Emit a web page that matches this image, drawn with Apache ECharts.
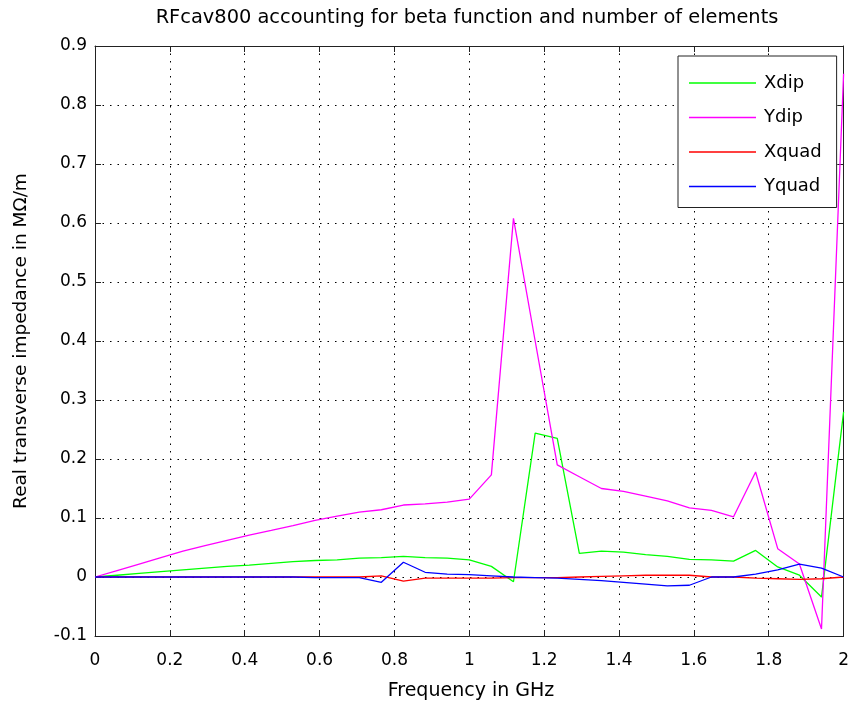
<!DOCTYPE html>
<html>
<head>
<meta charset="utf-8">
<script src="https://cdn.jsdelivr.net/npm/echarts@6/dist/echarts.min.js"></script>
<style>
  html, body { margin: 0; padding: 0; background: #fff; }
  #chart { width: 852px; height: 708px; }
</style>
</head>
<body>
<div id="chart"></div>
<script>
// Frequency samples (GHz)
const freqGHz = [0, 0.059, 0.118, 0.176, 0.235, 0.294, 0.353, 0.412, 0.471, 0.529,
  0.588, 0.647, 0.706, 0.765, 0.824, 0.882, 0.941, 1.0, 1.059, 1.118,
  1.176, 1.235, 1.294, 1.353, 1.412, 1.471, 1.529, 1.588, 1.647, 1.706,
  1.765, 1.824, 1.882, 1.941, 2.0];

// Real transverse impedance (MOhm/m)
const xdip = [0, 0.003, 0.006, 0.009, 0.012, 0.015, 0.018, 0.020, 0.023, 0.026,
  0.028, 0.029, 0.032, 0.033, 0.035, 0.033, 0.032, 0.029, 0.018, -0.008,
  0.244, 0.235, 0.040, 0.044, 0.042, 0.038, 0.035, 0.030, 0.029, 0.027,
  0.045, 0.017, 0.003, -0.034, 0.280];

const ydip = [0, 0.011, 0.022, 0.033, 0.044, 0.053, 0.062, 0.071, 0.079, 0.087,
  0.096, 0.103, 0.110, 0.114, 0.122, 0.124, 0.127, 0.132, 0.173, 0.608,
  0.400, 0.190, 0.170, 0.150, 0.145, 0.137, 0.129, 0.117, 0.113, 0.102,
  0.178, 0.048, 0.022, -0.088, 0.853];

const xquad = [0, 0, 0, 0, 0, 0, 0, 0, 0, 0,
  0, 0, 0, 0.002, -0.007, -0.002, -0.002, -0.002, -0.002, -0.001,
  -0.001, -0.001, 0, 0.001, 0.002, 0.003, 0.003, 0.003, 0, 0,
  -0.002, -0.003, -0.004, -0.003, 0];

const yquad = [0, 0, 0, 0, 0, 0, 0, 0, 0, 0,
  -0.001, -0.001, -0.001, -0.009, 0.025, 0.008, 0.005, 0.004, 0.002, 0,
  -0.001, -0.002, -0.004, -0.006, -0.009, -0.012, -0.015, -0.014, 0, 0,
  0.005, 0.012, 0.022, 0.015, 0];

const seriesNames = ['Xdip', 'Ydip', 'Xquad', 'Yquad'];
const seriesColors = ['#00ff00', '#ff00ff', '#ff0000', '#0000ff'];
const seriesValues = [xdip, ydip, xquad, yquad];

const FONT = 'DejaVu Sans';
const pairs = vals => freqGHz.map((f, i) => [f, vals[i]]);

const chart = echarts.init(document.getElementById('chart'), null, { renderer: 'canvas' });

// Secondary axes only draw the box edges with inward ticks
const frameAxis = {
  axisLine: { show: true, onZero: false, lineStyle: { color: '#222', width: 1 } },
  axisTick: { show: true, inside: true, length: 6, lineStyle: { color: '#222', width: 1 } },
  axisLabel: { show: false },
  splitLine: { show: false }
};

chart.setOption({
  animation: false,
  backgroundColor: '#fff',
  grid: { left: 95, right: 5, top: 46, bottom: 72, containLabel: false },
  xAxis: [
    {
      type: 'value', min: 0, max: 2, interval: 0.2, position: 'bottom',
      axisLine: { show: true, onZero: false, lineStyle: { color: '#222', width: 1 } },
      axisTick: { show: true, inside: true, length: 6, lineStyle: { color: '#222', width: 1 } },
      axisLabel: {
        margin: 16, color: '#000', fontFamily: FONT, fontSize: 17,
        formatter: v => String(+v.toFixed(1))
      },
      splitLine: { show: true, lineStyle: { color: '#000', width: 1, type: [1.5, 6] } }
    },
    Object.assign({}, frameAxis, { type: 'value', min: 0, max: 2, interval: 0.2, position: 'top' })
  ],
  yAxis: [
    {
      type: 'value', min: -0.1, max: 0.9, interval: 0.1, position: 'left',
      axisLine: { show: true, onZero: false, lineStyle: { color: '#222', width: 1 } },
      axisTick: { show: true, inside: true, length: 6, lineStyle: { color: '#222', width: 1 } },
      axisLabel: {
        margin: 8, color: '#000', fontFamily: FONT, fontSize: 17,
        formatter: v => String(+v.toFixed(1))
      },
      splitLine: { show: true, lineStyle: { color: '#000', width: 1, type: [1.5, 6] } }
    },
    Object.assign({}, frameAxis, { type: 'value', min: -0.1, max: 0.9, interval: 0.1, position: 'right' })
  ],
  legend: {
    orient: 'vertical', left: 678, top: 56,
    padding: [17, 15, 11, 11],
    icon: 'rect',
    itemWidth: 67, itemHeight: 1.4, itemGap: 14.5,
    backgroundColor: '#fff', borderColor: '#222', borderWidth: 1, borderRadius: 0,
    textStyle: { fontFamily: FONT, fontSize: 18, color: '#000', lineHeight: 20, padding: [0, 0, 0, 3] },
    data: seriesNames
  },
  graphic: [
    {
      type: 'text', x: 467, y: 18,
      style: {
        text: 'RFcav800 accounting for beta function and number of elements',
        font: '19.4px "DejaVu Sans"', fill: '#000', align: 'center', verticalAlign: 'middle'
      }
    },
    {
      type: 'text', x: 471, y: 691,
      style: {
        text: 'Frequency in GHz',
        font: '19px "DejaVu Sans"', fill: '#000', align: 'center', verticalAlign: 'middle'
      }
    },
    {
      type: 'text', x: 21, y: 341, rotation: Math.PI / 2,
      style: {
        text: 'Real transverse impedance in M\u03A9/m',
        font: '18.5px "DejaVu Sans"', fill: '#000', align: 'center', verticalAlign: 'middle'
      }
    }
  ],
  series: seriesNames.map((name, k) => ({
    name,
    type: 'line',
    xAxisIndex: 0, yAxisIndex: 0,
    data: pairs(seriesValues[k]),
    symbol: 'none',
    showSymbol: false,
    smooth: false,
    clip: true,
    color: seriesColors[k],
    itemStyle: { color: seriesColors[k] },
    lineStyle: { color: seriesColors[k], width: 1.3 },
    emphasis: { disabled: true }
  }))
});
</script>
</body>
</html>
